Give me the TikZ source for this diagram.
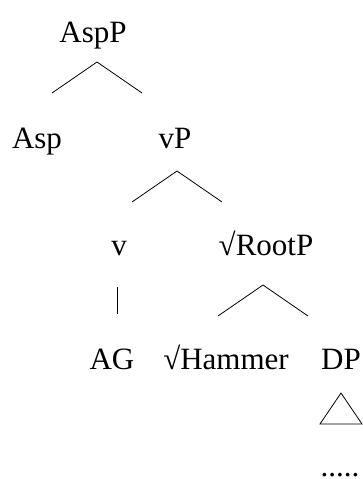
\documentclass[tikz,border=0pt]{standalone}
\usepackage{fontspec}
\setmainfont{Liberation Serif}
\begin{document}
\begin{tikzpicture}[x=1pt,y=-1pt,
  lab/.style={anchor=base,inner sep=0pt,font=\fontsize{31}{37}\selectfont},
  br/.style={line width=0.8pt}]
\useasboundingbox (0,0) rectangle (363,479);
% labels
\node[lab] (aspp) at (93,42) {AspP};
\node[lab] (asp) at (37,148) {Asp};
\node[lab] (vp) at (175,148) {vP};
\node[lab] (v) at (119,255) {v};
\node[lab] (rootp) at (266,255) {√RootP};
\node[lab] (ag) at (112,369) {AG};
\node[lab] (hammer) at (226,369) {√Hammer};
\node[lab] (dp) at (341,369) {DP};
\node[lab] (dots) at (340,476) {.....};
% branch points
\coordinate (a1) at (97,62);  \coordinate (a1l) at (52,93);  \coordinate (a1r) at (142,93);
\coordinate (a2) at (177,171); \coordinate (a2l) at (132,202); \coordinate (a2r) at (222,202);
\coordinate (a3t) at (117,287); \coordinate (a3b) at (117,314);
\coordinate (a4) at (263,285); \coordinate (a4l) at (218,316); \coordinate (a4r) at (308,316);
\coordinate (t1) at (341,393); \coordinate (t1l) at (320,424); \coordinate (t1r) at (362,424);
\draw[br] (a1l) -- (a1) -- (a1r);
\draw[br] (a2l) -- (a2) -- (a2r);
\draw[br] (a3t) -- (a3b);
\draw[br] (a4l) -- (a4) -- (a4r);
\draw[br] (t1) -- (t1l) -- (t1r) -- cycle;
\end{tikzpicture}
\end{document}
